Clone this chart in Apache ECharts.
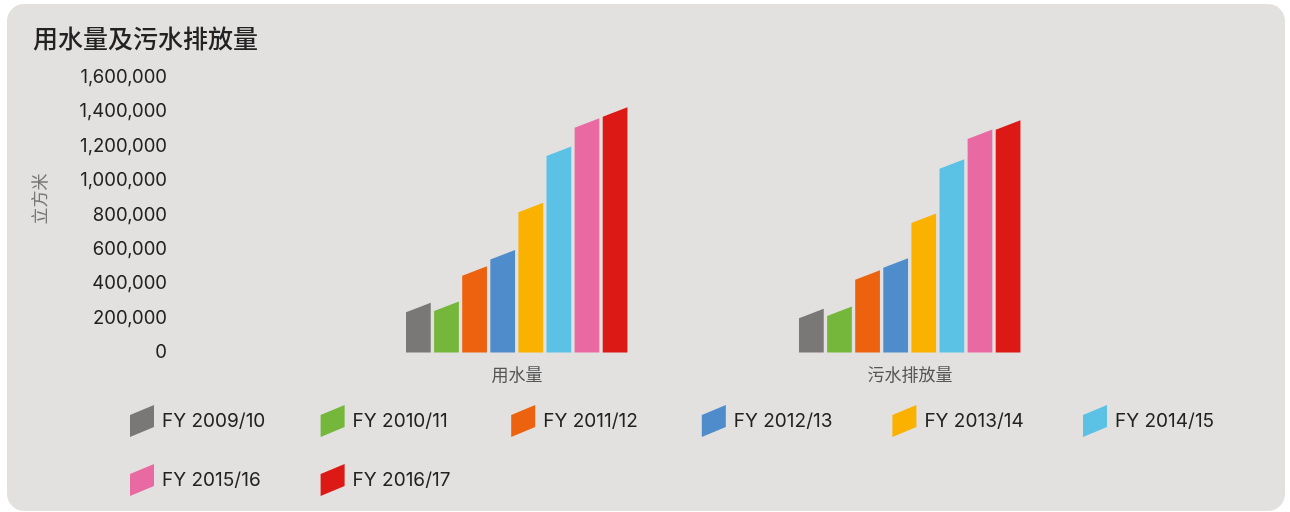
<!DOCTYPE html>
<html>
<head>
<meta charset="utf-8">
<script src="https://cdn.jsdelivr.net/npm/echarts@6/dist/echarts.min.js"></script>
<style>
html,body{margin:0;padding:0;background:#ffffff;}
#card{position:absolute;left:7px;top:4px;width:1278px;height:507px;border-radius:17px;background:#e2e1df;}
#main{position:absolute;left:0;top:0;width:1290px;height:512px;}
</style>
</head>
<body>
<div id="card"></div>
<div id="main"></div>
<script>
var categories = ['用水量', '污水排放量'];
var years = ['FY 2009/10', 'FY 2010/11', 'FY 2011/12', 'FY 2012/13', 'FY 2013/14', 'FY 2014/15', 'FY 2015/16', 'FY 2016/17'];
var waterUse = [289000, 297000, 502000, 597000, 871000, 1198000, 1363000, 1427000];
var wastewater = [254000, 268000, 479000, 549000, 809000, 1125000, 1297000, 1352000];
var yTicks = [0, 200000, 400000, 600000, 800000, 1000000, 1200000, 1400000, 1600000];
var colors = ['#7a7876', '#74b73a', '#ec620e', '#4f8ccb', '#fbb100', '#5bc2e6', '#e96aa3', '#dc1915'];

var latin = 'Inter, "Noto Sans CJK SC", sans-serif';
var cjk = '"Noto Sans CJK SC", sans-serif';

function renderBar(params, api) {
  var cat = api.value(0), v = api.value(1);
  var top = api.coord([cat, v]);
  var base = api.coord([cat, 0]);
  var band = api.size([1, 0])[0];
  var pitch = band * 0.0715;
  var w = pitch * 0.88;
  var x0 = top[0] - band * 0.2824 + params.seriesIndex * pitch;
  var slant = 9.5;
  return {
    type: 'polygon',
    shape: { points: [[x0, base[1]], [x0 + w, base[1]], [x0 + w, top[1]], [x0, top[1] + slant]] },
    style: api.style()
  };
}

var series = years.map(function (y, i) {
  return {
    name: y,
    type: 'custom',
    renderItem: renderBar,
    itemStyle: { color: colors[i] },
    encode: { x: 0, y: 1 },
    data: [[0, waterUse[i]], [1, wastewater[i]]]
  };
});

// one legend component per item, laid out as a 6-column grid
var legends = years.map(function (y, i) {
  var col = i % 6, row = Math.floor(i / 6);
  return {
    left: 130 + col * 190.6, top: 405 + row * 59, padding: 0,
    itemWidth: 24, itemHeight: 32,
    icon: 'path://M0,10L24,0L24,22L0,32Z',
    textStyle: { fontFamily: latin, fontSize: 19, color: '#222', padding: [0, 0, 0, 3] },
    data: [y]
  };
});

var chart = echarts.init(document.getElementById('main'), null, { renderer: 'canvas' });
chart.setOption({
  backgroundColor: 'transparent',
  animation: false,
  title: {
    text: '用水量及污水排放量',
    left: 33, top: 26, padding: 0,
    textStyle: { fontFamily: cjk, fontSize: 25, fontWeight: 500, color: '#222' }
  },
  legend: legends,
  grid: { left: 320.5, right: 183.5, top: 77.5, bottom: 159.5, containLabel: false },
  xAxis: {
    type: 'category',
    data: categories,
    axisLine: { show: false },
    axisTick: { show: false },
    axisLabel: { color: '#555', fontSize: 17, margin: 14, fontFamily: cjk }
  },
  yAxis: {
    type: 'value',
    min: yTicks[0], max: yTicks[yTicks.length - 1], interval: yTicks[1] - yTicks[0],
    name: '立方米',
    nameLocation: 'middle',
    nameRotate: 90,
    nameGap: 272.5,
    nameTextStyle: { color: '#777', fontSize: 17, fontFamily: cjk, padding: [0, 0, 0, 32] },
    axisLine: { show: false },
    axisTick: { show: false },
    splitLine: { show: false },
    axisLabel: {
      margin: 153.5, color: '#222', fontSize: 18.5, fontFamily: latin,
      formatter: function (v) { return v.toLocaleString('en-US'); }
    }
  },
  series: series
});
</script>
</body>
</html>
